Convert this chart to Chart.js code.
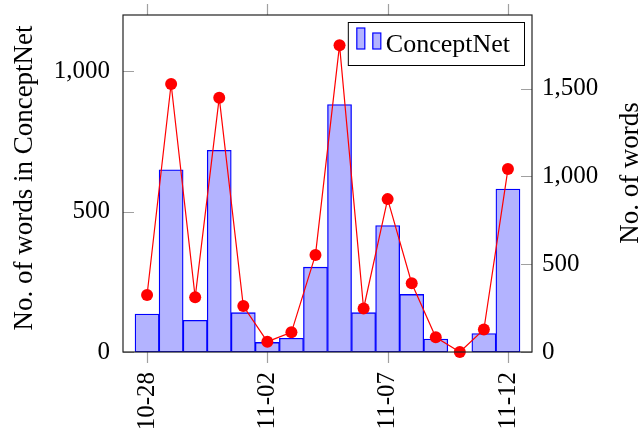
<!DOCTYPE html>
<html>
<head>
<meta charset="utf-8">
<script src="https://cdn.jsdelivr.net/npm/chart.js@4/dist/chart.umd.min.js"></script>
<style>
  html, body { margin: 0; padding: 0; background: #fff; }
  #wrap { width: 640px; height: 434px; position: relative; }
</style>
</head>
<body>
<div id="wrap"><canvas id="chart"></canvas></div>
<script>
// Days on the x axis (one bar / point per day)
const dates = ['10-28', '10-29', '10-30', '10-31', '11-01', '11-02', '11-03', '11-04',
               '11-05', '11-06', '11-07', '11-08', '11-09', '11-10', '11-11', '11-12'];
// Bars: words in ConceptNet (left axis)
const conceptNet = [135, 649, 113, 718, 140, 34, 49, 302, 881, 140, 450, 205, 46, 0, 66, 580];
// Red line: total words (right axis)
const totalWords = [325, 1527, 312, 1449, 262, 59, 112, 553, 1748, 248, 871, 392, 84, 0, 128, 1042];
// Labelled x ticks (indexes into dates)
const xTicks = [0, 5, 10, 15];
const leftTicks = [0, 500, 1000];
const rightTicks = [0, 500, 1000, 1500];

const FONT = "'Liberation Serif', 'Times New Roman', serif";
const FONT_SIZE = 25;
const TITLE_SIZE = 27;
const LEGEND_SIZE = 26;

function fmt(v) {
    return Number(v).toLocaleString('en-US');
}

// Frame, tick marks, axis titles and legend drawn on top
const decorations = {
    id: 'decorations',
    afterDraw(chart) {
        const ctx = chart.ctx;
        const ca = chart.chartArea;
        const x = chart.scales.x;
        const yL = chart.scales.y;
        const yR = chart.scales.y2;
        ctx.save();

        // tick marks
        ctx.strokeStyle = '#a0a0a0';
        ctx.lineWidth = 1.2;
        ctx.beginPath();
        xTicks.forEach(t => {
            const px = Math.round(x.getPixelForValue(t)) + 0.5;
            ctx.moveTo(px, ca.bottom);
            ctx.lineTo(px, ca.bottom + 11);
            ctx.moveTo(px, ca.top);
            ctx.lineTo(px, ca.top - 11);
        });
        leftTicks.forEach(t => {
            const py = Math.round(yL.getPixelForValue(t)) + 0.5;
            ctx.moveTo(ca.left, py);
            ctx.lineTo(ca.left + 11, py);
        });
        rightTicks.forEach(t => {
            const py = Math.round(yR.getPixelForValue(t)) + 0.5;
            ctx.moveTo(ca.right, py);
            ctx.lineTo(ca.right - 11, py);
        });
        ctx.stroke();

        // frame
        ctx.strokeStyle = '#222';
        ctx.lineWidth = 1.2;
        ctx.strokeRect(ca.left, ca.top, ca.right - ca.left, ca.bottom - ca.top);

        // axis titles
        ctx.fillStyle = '#000';
        ctx.font = TITLE_SIZE + 'px ' + FONT;
        ctx.textAlign = 'center';
        ctx.textBaseline = 'alphabetic';
        ctx.save();
        ctx.translate(32, 178);
        ctx.rotate(-Math.PI / 2);
        ctx.fillText('No. of words in ConceptNet', 0, 0);
        ctx.restore();
        ctx.save();
        ctx.translate(638, 173);
        ctx.rotate(-Math.PI / 2);
        ctx.fillText('No. of words', 0, 0);
        ctx.restore();

        // legend
        ctx.font = LEGEND_SIZE + 'px ' + FONT;
        const label = chart.data.datasets[1].label;
        const textW = ctx.measureText(label).width;
        const boxR = ca.right - 8;
        const boxT = ca.top + 7;
        const boxH = 43;
        const boxL = boxR - textW - 52;
        ctx.fillStyle = '#fff';
        ctx.fillRect(boxL, boxT, boxR - boxL, boxH);
        ctx.strokeStyle = '#000';
        ctx.lineWidth = 1;
        ctx.strokeRect(boxL + 0.5, boxT + 0.5, boxR - boxL, boxH);
        ctx.fillStyle = '#b3b3ff';
        ctx.strokeStyle = '#0000ff';
        ctx.lineWidth = 1.2;
        ctx.fillRect(boxL + 9, boxT + 6, 8, 21);
        ctx.strokeRect(boxL + 9, boxT + 6, 8, 21);
        ctx.fillRect(boxL + 25, boxT + 11, 8, 16);
        ctx.strokeRect(boxL + 25, boxT + 11, 8, 16);
        ctx.fillStyle = '#000';
        ctx.textAlign = 'left';
        ctx.fillText(label, boxL + 38, boxT + 30);

        ctx.restore();
    }
};

function noPad(axis) {
    axis.paddingTop = 0;
    axis.paddingBottom = 0;
    axis.paddingLeft = 0;
    axis.paddingRight = 0;
}

const ctx = document.getElementById('chart');
new Chart(ctx, {
    type: 'bar',
    data: {
        datasets: [
            {
                type: 'line',
                label: 'No. of words',
                data: totalWords.map((v, i) => ({ x: i, y: v })),
                yAxisID: 'y2',
                borderColor: '#ff0000',
                backgroundColor: '#ff0000',
                borderWidth: 1.2,
                pointRadius: 6,
                pointBorderWidth: 0,
                pointBackgroundColor: '#ff0000',
                tension: 0,
                clip: false,
                order: 0
            },
            {
                type: 'bar',
                label: 'ConceptNet',
                data: conceptNet.map((v, i) => ({ x: i, y: v })),
                yAxisID: 'y',
                backgroundColor: '#b3b3ff',
                borderColor: '#0000ff',
                borderWidth: 1.3,
                borderSkipped: false,
                barPercentage: 1,
                categoryPercentage: 1,
                order: 1
            }
        ]
    },
    options: {
        responsive: true,
        maintainAspectRatio: false,
        animation: false,
        layout: { padding: { top: 15, left: 0, right: 0, bottom: 0 } },
        scales: {
            x: {
                type: 'linear',
                min: -1,
                max: 16,
                offset: false,
                grid: { display: false, drawTicks: false },
                border: { display: false },
                afterBuildTicks: axis => {
                    axis.ticks = xTicks.map(v => ({ value: v }));
                },
                afterFit: axis => { axis.height = 82; noPad(axis); },
                ticks: {
                    autoSkip: false,
                    minRotation: 90,
                    maxRotation: 90,
                    padding: 20,
                    color: '#000',
                    font: { family: FONT, size: FONT_SIZE },
                    callback: v => dates[v]
                }
            },
            y: {
                position: 'left',
                min: 0,
                max: 1200,
                grid: { display: false, drawTicks: false },
                border: { display: false },
                afterBuildTicks: axis => {
                    axis.ticks = leftTicks.map(v => ({ value: v }));
                },
                afterFit: axis => { axis.width = 123; noPad(axis); },
                ticks: {
                    padding: 13,
                    color: '#000',
                    font: { family: FONT, size: FONT_SIZE },
                    callback: v => fmt(v)
                }
            },
            y2: {
                position: 'right',
                min: 0,
                max: 1920,
                grid: { display: false, drawTicks: false },
                border: { display: false },
                afterBuildTicks: axis => {
                    axis.ticks = rightTicks.map(v => ({ value: v }));
                },
                afterFit: axis => { axis.width = 108; noPad(axis); },
                ticks: {
                    padding: 10,
                    color: '#000',
                    font: { family: FONT, size: FONT_SIZE },
                    callback: v => fmt(v)
                }
            }
        },
        plugins: {
            legend: { display: false },
            tooltip: { enabled: false }
        }
    },
    plugins: [decorations]
});
</script>
</body>
</html>
